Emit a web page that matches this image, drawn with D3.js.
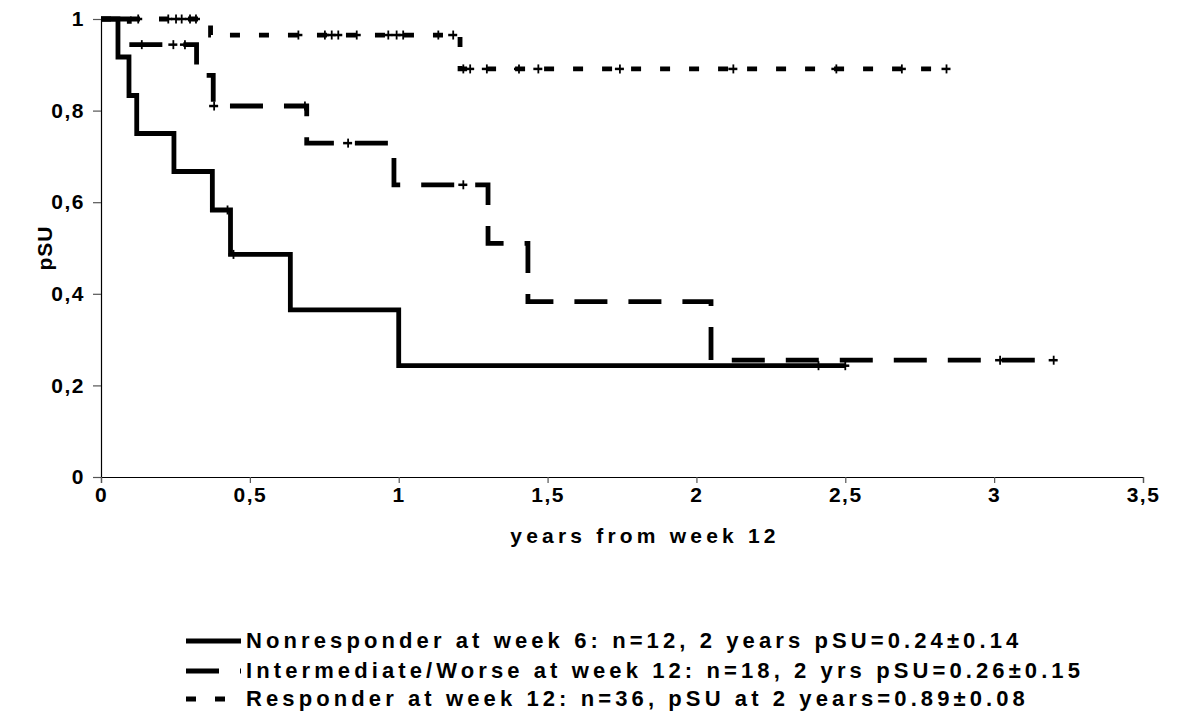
<!DOCTYPE html>
<html>
<head>
<meta charset="utf-8">
<script src="https://cdn.jsdelivr.net/npm/d3@7"></script>
<style>
  body { margin: 0; background: #fff; }
  svg { display: block; }
  text { font-family: "Liberation Sans", Arial, sans-serif; font-weight: bold; fill: #000; }
</style>
</head>
<body>
<svg id="chart" width="1202" height="713"></svg>
<script>
// Kaplan-Meier steps (time in years, survival pSU)
const nrTime = [0, 0.057, 0.094, 0.12, 0.245, 0.374, 0.435, 0.636, 1.0, 2.5];
const nrSurv = [1, 0.917, 0.833, 0.75, 0.667, 0.583, 0.486, 0.365, 0.243, 0.243];
const nrCens = [0.425, 0.445, 2.41, 2.5];

const imTime = [0, 0.095, 0.321, 0.377, 0.691, 0.984, 1.3, 1.434, 2.049, 3.2];
const imSurv = [1, 0.944, 0.877, 0.81, 0.729, 0.638, 0.51, 0.383, 0.255, 0.255];
const imCens = [0.137, 0.243, 0.282, 0.38, 0.685, 0.83, 1.217, 3.02, 3.2];

const rsTime = [0, 0.368, 1.206, 2.84];
const rsSurv = [1, 0.965, 0.891, 0.891];
const rsCens = [0.125, 0.226, 0.252, 0.271, 0.299, 0.319,
  0.663, 0.752, 0.775, 0.797, 0.859, 0.965, 0.993, 1.015, 1.133, 1.183,
  1.217, 1.24, 1.296, 1.404, 1.469, 1.743, 2.124, 2.47, 2.69, 2.84];

const xTicks = [0, 0.5, 1, 1.5, 2, 2.5, 3, 3.5];
const yTicks = [0, 0.2, 0.4, 0.6, 0.8, 1];

const legendLabels = [
  "Nonresponder at week 6: n=12, 2 years pSU=0.24±0.14",
  "Intermediate/Worse at week 12: n=18, 2 yrs pSU=0.26±0.15",
  "Responder at week 12: n=36, pSU at 2 years=0.89±0.08"
];

const svg = d3.select("#chart");
const x = d3.scaleLinear().domain([0, 3.5]).range([101, 1143]);
const y = d3.scaleLinear().domain([0, 1]).range([477, 19]);
const comma = d => String(d).replace(".", ",");

// axes
const yAxis = svg.append("g")
  .attr("transform", `translate(${x(0)},0)`)
  .call(d3.axisLeft(y).tickValues(yTicks).tickSize(8).tickPadding(8).tickFormat(comma));
const xAxis = svg.append("g")
  .attr("transform", `translate(0,${y(0)})`)
  .call(d3.axisBottom(x).tickValues(xTicks).tickSize(6).tickPadding(4).tickFormat(comma));

[yAxis, xAxis].forEach(a => {
  a.attr("font-family", null).attr("font-size", null);
  a.select(".domain").attr("stroke", "#000").attr("stroke-width", 1.2);
  a.selectAll(".tick line").attr("stroke", "#555").attr("stroke-width", 1.2);
  a.selectAll("text").attr("font-size", 21).attr("letter-spacing", 1.5).attr("fill", "#000");
});

svg.append("text")
  .attr("x", 645).attr("y", 543)
  .attr("text-anchor", "middle")
  .attr("font-size", 21).attr("letter-spacing", 4.2)
  .text("years from week 12");

svg.append("text")
  .attr("transform", `translate(52,${y(0.5)}) rotate(-90)`)
  .attr("text-anchor", "middle")
  .attr("font-size", 21).attr("letter-spacing", 1)
  .text("pSU");

// curves
const series = [
  {t: nrTime, s: nrSurv, c: nrCens, dash: null},
  {t: imTime, s: imSurv, c: imCens, dash: "33,21"},
  {t: rsTime, s: rsSurv, c: rsCens, dash: "10,19"}
];

const line = d3.line().x(d => x(d[0])).y(d => y(d[1])).curve(d3.curveStepAfter);

const survAt = (ser, t) => {
  let v = ser.s[0];
  ser.t.forEach((tt, i) => { if (tt < t) v = ser.s[i]; });
  return v;
};

series.forEach(ser => {
  svg.append("path")
    .datum(ser.t.map((t, i) => [t, ser.s[i]]))
    .attr("d", line)
    .attr("fill", "none")
    .attr("stroke", "#000")
    .attr("stroke-width", 4.8)
    .attr("stroke-dasharray", ser.dash);

  // censor marks: small plus signs
  const marks = svg.append("g").selectAll("g")
    .data(ser.c)
    .join("g")
    .attr("transform", d => `translate(${x(d)},${y(survAt(ser, d))})`);
  marks.append("line")
    .attr("y1", -4.5).attr("y2", 4.5)
    .attr("stroke", "#000").attr("stroke-width", 1.8);
  marks.append("line")
    .attr("x1", -5).attr("x2", 4)
    .attr("stroke", "#000").attr("stroke-width", 2.5);
});

// legend
const legend = svg.append("g");
const rowY = [641, 671, 699];
legendLabels.forEach((lab, i) => {
  legend.append("line")
    .attr("x1", 186).attr("x2", 241)
    .attr("y1", rowY[i]).attr("y2", rowY[i])
    .attr("stroke", "#000").attr("stroke-width", 4.8)
    .attr("stroke-dasharray", series[i].dash);
  legend.append("text")
    .attr("x", 246).attr("y", rowY[i] + 7)
    .attr("font-size", 22).attr("letter-spacing", 4.1)
    .text(lab);
});
</script>
</body>
</html>
